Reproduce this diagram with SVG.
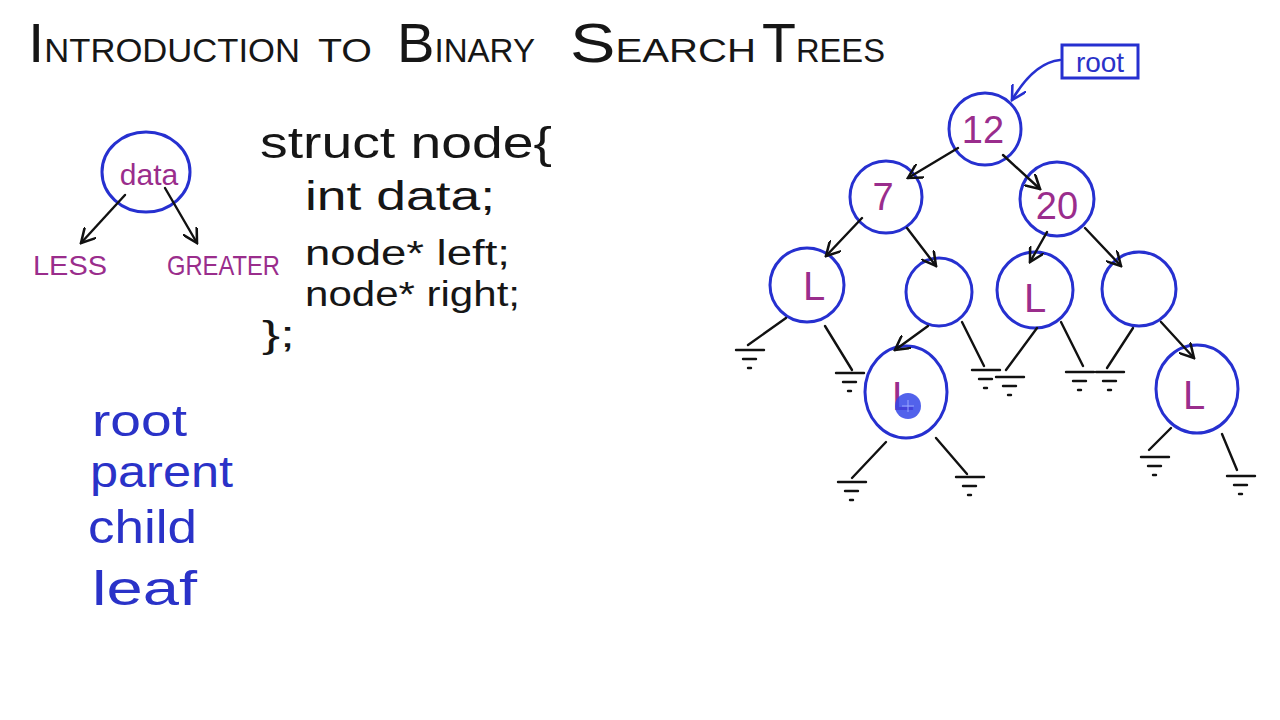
<svg xmlns="http://www.w3.org/2000/svg" width="1280" height="720" viewBox="0 0 1280 720">
<style>
text{font-family:"Liberation Sans","DejaVu Sans",sans-serif}
.blk{fill:#161616}
.mag{fill:#9a2d8c}
.blu{fill:#2a32c8}
.circ{fill:none;stroke:#2630d0;stroke-width:3}
.edge{fill:none;stroke:#111;stroke-width:2.4;stroke-linecap:round}
.gnd line{stroke:#111;stroke-width:2.4;stroke-linecap:round}
</style>
<defs>
<marker id="ah" viewBox="0 0 10 10" refX="9" refY="5" markerWidth="16" markerHeight="16" markerUnits="userSpaceOnUse" orient="auto">
<path d="M0,0 L9,5 L0,10" fill="none" stroke="#111" stroke-width="1.6" stroke-linecap="round"/>
</marker>
<marker id="ahb" viewBox="0 0 10 10" refX="9" refY="5" markerWidth="16" markerHeight="16" markerUnits="userSpaceOnUse" orient="auto">
<path d="M0,0 L9,5 L0,10" fill="none" stroke="#2630d0" stroke-width="1.6" stroke-linecap="round"/>
</marker>
<g id="gnd" class="gnd">
<line x1="-14" y1="0" x2="14" y2="0"/>
<line x1="-7" y1="9" x2="6" y2="9"/>
<line x1="-2" y1="18" x2="1" y2="18"/>
</g>
</defs>
<rect width="1280" height="720" fill="#fff"/>

<g id="title" class="blk">
<text x="28" y="62" textLength="272" lengthAdjust="spacingAndGlyphs"><tspan font-size="56">I</tspan><tspan font-size="33">NTRODUCTION</tspan></text>
<text x="318" y="62" font-size="33" textLength="54" lengthAdjust="spacingAndGlyphs">TO</text>
<text x="397" y="62" textLength="138" lengthAdjust="spacingAndGlyphs"><tspan font-size="56">B</tspan><tspan font-size="33">INARY</tspan></text>
<text x="570" y="62" textLength="186" lengthAdjust="spacingAndGlyphs"><tspan font-size="56">S</tspan><tspan font-size="33">EARCH</tspan></text>
<text x="762" y="62" textLength="123" lengthAdjust="spacingAndGlyphs"><tspan font-size="56">T</tspan><tspan font-size="33">REES</tspan></text>
</g>

<g id="code" class="blk">
<text x="260" y="158" font-size="44" textLength="292" lengthAdjust="spacingAndGlyphs">struct node{</text>
<text x="305" y="210" font-size="40" textLength="190" lengthAdjust="spacingAndGlyphs">int data;</text>
<text x="305" y="265" font-size="35" textLength="205" lengthAdjust="spacingAndGlyphs">node* left;</text>
<text x="305" y="306" font-size="35" textLength="215" lengthAdjust="spacingAndGlyphs">node* right;</text>
<text x="262" y="347" font-size="36" textLength="33" lengthAdjust="spacingAndGlyphs">};</text>
</g>

<g id="terms" class="blu">
<text x="92" y="436" font-size="44" textLength="95" lengthAdjust="spacingAndGlyphs">root</text>
<text x="90" y="487" font-size="44" textLength="143" lengthAdjust="spacingAndGlyphs">parent</text>
<text x="88" y="543" font-size="46" textLength="109" lengthAdjust="spacingAndGlyphs">child</text>
<text x="92" y="605" font-size="48" textLength="105" lengthAdjust="spacingAndGlyphs">leaf</text>
</g>

<g id="data-node">
<ellipse class="circ" cx="146" cy="172" rx="44" ry="40"/>
<text class="mag" x="149" y="185" font-size="30" text-anchor="middle">data</text>
</g>
<g id="less">
<text class="mag" x="33" y="275" font-size="28" textLength="74" lengthAdjust="spacingAndGlyphs">LESS</text>
</g>
<g id="greater">
<text class="mag" x="167" y="275" font-size="28" textLength="113" lengthAdjust="spacingAndGlyphs">GREATER</text>
</g>

<g id="root-label">
<rect x="1062" y="45" width="76" height="33" fill="none" stroke="#2630d0" stroke-width="3"/>
<text class="blu" x="1100" y="72" font-size="28" text-anchor="middle">root</text>
</g>

<g id="n12"><circle class="circ" cx="985" cy="129" r="36"/><text class="mag" x="983" y="143" font-size="38" text-anchor="middle">12</text></g>
<g id="n7"><circle class="circ" cx="886" cy="197" r="36"/><text class="mag" x="883" y="210" font-size="38" text-anchor="middle">7</text></g>
<g id="n20"><circle class="circ" cx="1057" cy="199" r="37"/><text class="mag" x="1057" y="219" font-size="38" text-anchor="middle">20</text></g>
<g id="nL1"><circle class="circ" cx="807" cy="285" r="37"/><text class="mag" x="814" y="300" font-size="40" text-anchor="middle">L</text></g>
<g id="nE1"><ellipse class="circ" cx="939" cy="292" rx="33" ry="34"/></g>
<g id="nL2"><circle class="circ" cx="1035" cy="290" r="38"/><text class="mag" x="1035" y="312" font-size="40" text-anchor="middle">L</text></g>
<g id="nE2"><circle class="circ" cx="1139" cy="289" r="37"/></g>
<g id="nL3"><ellipse class="circ" cx="906" cy="392" rx="41" ry="46"/><text class="mag" x="903" y="410" font-size="40" text-anchor="middle">L</text></g>
<g id="nL4"><ellipse class="circ" cx="1197" cy="389" rx="41" ry="44"/><text class="mag" x="1194" y="409" font-size="40" text-anchor="middle">L</text></g>

<g id="connectors">
<path class="edge" marker-end="url(#ah)" d="M125,195 L81,243"/>
<path class="edge" marker-end="url(#ah)" d="M165,188 L197,243"/>
<path d="M1060,60 C1040,62 1025,78 1012,100" fill="none" stroke="#2630d0" stroke-width="2.6" stroke-linecap="round" marker-end="url(#ahb)"/>
<path class="edge" marker-end="url(#ah)" d="M958,148 L908,178"/>
<path class="edge" marker-end="url(#ah)" d="M1003,155 L1040,189"/>
<path class="edge" marker-end="url(#ah)" d="M862,218 L826,256"/>
<path class="edge" marker-end="url(#ah)" d="M907,228 L936,266"/>
<path class="edge" marker-end="url(#ah)" d="M1047,232 L1030,262"/>
<path class="edge" marker-end="url(#ah)" d="M1085,228 L1121,266"/>
<path class="edge" marker-end="url(#ah)" d="M928,326 L895,350"/>
<path class="edge" marker-end="url(#ah)" d="M1161,322 L1194,358"/>
<path class="edge" d="M786,318 L748,345"/>
<path class="edge" d="M825,326 L852,370"/>
<path class="edge" d="M962,322 L984,366"/>
<path class="edge" d="M1037,328 L1006,370"/>
<path class="edge" d="M1061,322 L1083,366"/>
<path class="edge" d="M1133,328 L1107,368"/>
<path class="edge" d="M886,442 L852,478"/>
<path class="edge" d="M936,438 L967,474"/>
<path class="edge" d="M1171,428 L1149,450"/>
<path class="edge" d="M1222,434 L1237,470"/>
<use href="#gnd" x="750" y="350"/>
<use href="#gnd" x="850" y="373"/>
<use href="#gnd" x="986" y="370"/>
<use href="#gnd" x="1010" y="377"/>
<use href="#gnd" x="1080" y="372"/>
<use href="#gnd" x="1110" y="372"/>
<use href="#gnd" x="852" y="482"/>
<use href="#gnd" x="970" y="477"/>
<use href="#gnd" x="1155" y="457"/>
<use href="#gnd" x="1241" y="476"/>
</g>

<g id="cursor">
<circle cx="908" cy="406" r="13" fill="#3446e8" opacity="0.85"/>
<path d="M908,400 V412 M902,406 H914" stroke="#9aa6ff" stroke-width="1" fill="none"/>
</g>
</svg>
